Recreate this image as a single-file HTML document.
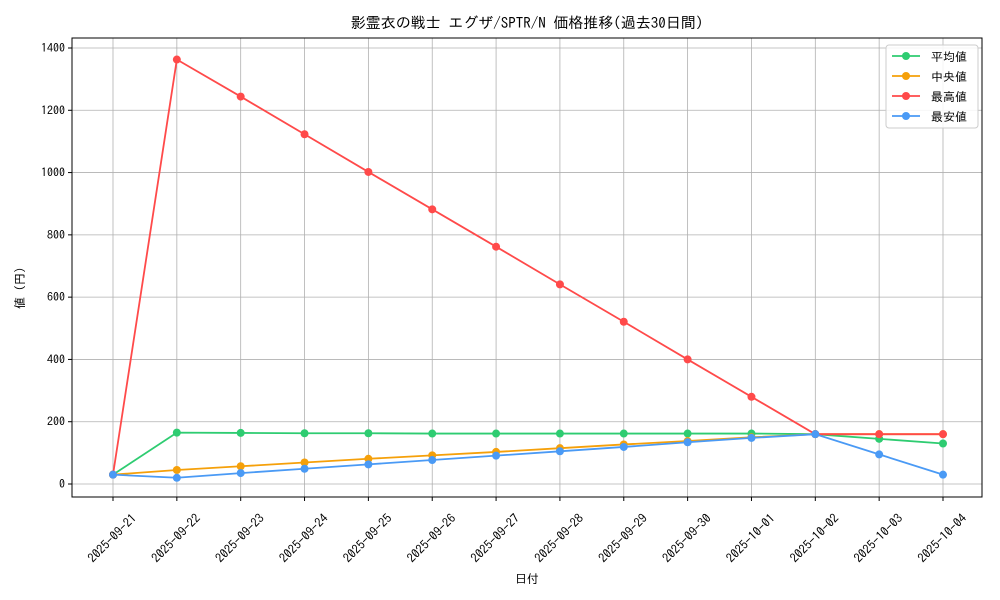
<!DOCTYPE html>
<html><head><meta charset="utf-8"><style>
html,body{margin:0;padding:0;background:#fff;}
svg{display:block;font-family:"IPAGothic","Noto Sans CJK JP","DejaVu Sans",sans-serif;}
</style></head><body>
<svg id="s" width="1000" height="600" viewBox="0 0 1000 600" xmlns="http://www.w3.org/2000/svg">
<rect width="1000" height="600" fill="#fff"/>
<g id="grid"></g>
<rect x="72" y="38" width="910" height="459" fill="none" stroke="#000" stroke-width="1"/>
<g id="ticks" font-size="12" fill="#000"></g>
<g id="series"></g>
<text x="527" y="28" font-size="15" text-anchor="middle">影霊衣の戦士 エグザ/SPTR/N 価格推移(過去30日間)</text>
<text x="527" y="583" font-size="12" text-anchor="middle">日付</text>
<text transform="translate(24,285) rotate(-90)" font-size="12" text-anchor="middle">値（円）</text>
<g>
<rect x="886" y="45" width="92" height="83" rx="3" fill="#fff" fill-opacity="0.85" stroke="#ccc"/>
<line x1="892" y1="56" x2="920" y2="56" stroke="#2ecc71" stroke-width="1.8"/><circle cx="906" cy="56" r="4" fill="#2ecc71"/>
<text x="931" y="61" font-size="12">平均値</text>
<line x1="892" y1="76" x2="920" y2="76" stroke="#f5a00a" stroke-width="1.8"/><circle cx="906" cy="76" r="4" fill="#f5a00a"/>
<text x="931" y="81" font-size="12"> 中央値</text>
<line x1="892" y1="96" x2="920" y2="96" stroke="#ff4a4a" stroke-width="1.8"/><circle cx="906" cy="96" r="4" fill="#ff4a4a"/>
<text x="931" y="101" font-size="12">最高値</text>
<line x1="892" y1="116" x2="920" y2="116" stroke="#4a9af5" stroke-width="1.8"/><circle cx="906" cy="116" r="4" fill="#4a9af5"/>
<text x="931" y="121" font-size="12">最安値</text>
</g>
</svg>
<script>
var NS="http://www.w3.org/2000/svg";
function el(p,t,a,txt){var e=document.createElementNS(NS,t);for(var k in a)e.setAttribute(k,a[k]);if(txt!==undefined)e.textContent=txt;p.appendChild(e);return e;}
var g=document.getElementById('grid'),tk=document.getElementById('ticks'),sr=document.getElementById('series');
function X(i){return 113+i*830/13;}
function Y(v){return 484-v*436/1400;}
var dates=["2025-09-21","2025-09-22","2025-09-23","2025-09-24","2025-09-25","2025-09-26","2025-09-27","2025-09-28","2025-09-29","2025-09-30","2025-10-01","2025-10-02","2025-10-03","2025-10-04"];
for(var i=0;i<14;i++){var x=X(i);
el(g,'line',{x1:x,y1:38,x2:x,y2:497,stroke:'#b0b0b0','stroke-width':0.8});
el(tk,'line',{x1:x,y1:497,x2:x,y2:501,stroke:'#000'});
el(tk,'text',{transform:'translate('+(x-1)+',538) rotate(-45)','text-anchor':'middle','dominant-baseline':'central','font-size':12.5},dates[i]);}
for(var v=0;v<=1400;v+=200){var y=Y(v);
el(g,'line',{x1:72,y1:y,x2:982,y2:y,stroke:'#b0b0b0','stroke-width':0.8});
el(tk,'line',{x1:68,y1:y,x2:72,y2:y,stroke:'#000'});
el(tk,'text',{x:65,y:y+4,'text-anchor':'end'},String(v));}
var S=[
["#2ecc71",[30,165,164,163,163,162,162,162,162,162,162,160,145,130]],
["#f5a00a",[30,45,57,69,81,92,103,115,127,138,150,160,160,160]],
["#ff4a4a",[30,1363,1244,1123,1002,882,762,641,521,400,280,160,160,160]],
["#4a9af5",[30,20,35,49,63,77,91,105,119,134,148,160,95,30]]];
S.forEach(function(s){var pts=s[1].map(function(v,i){return X(i)+','+Y(v);}).join(' ');
el(sr,'polyline',{points:pts,fill:'none',stroke:s[0],'stroke-width':1.8});
s[1].forEach(function(v,i){el(sr,'circle',{cx:X(i),cy:Y(v),r:4,fill:s[0]});});});
</script>
</body></html>
